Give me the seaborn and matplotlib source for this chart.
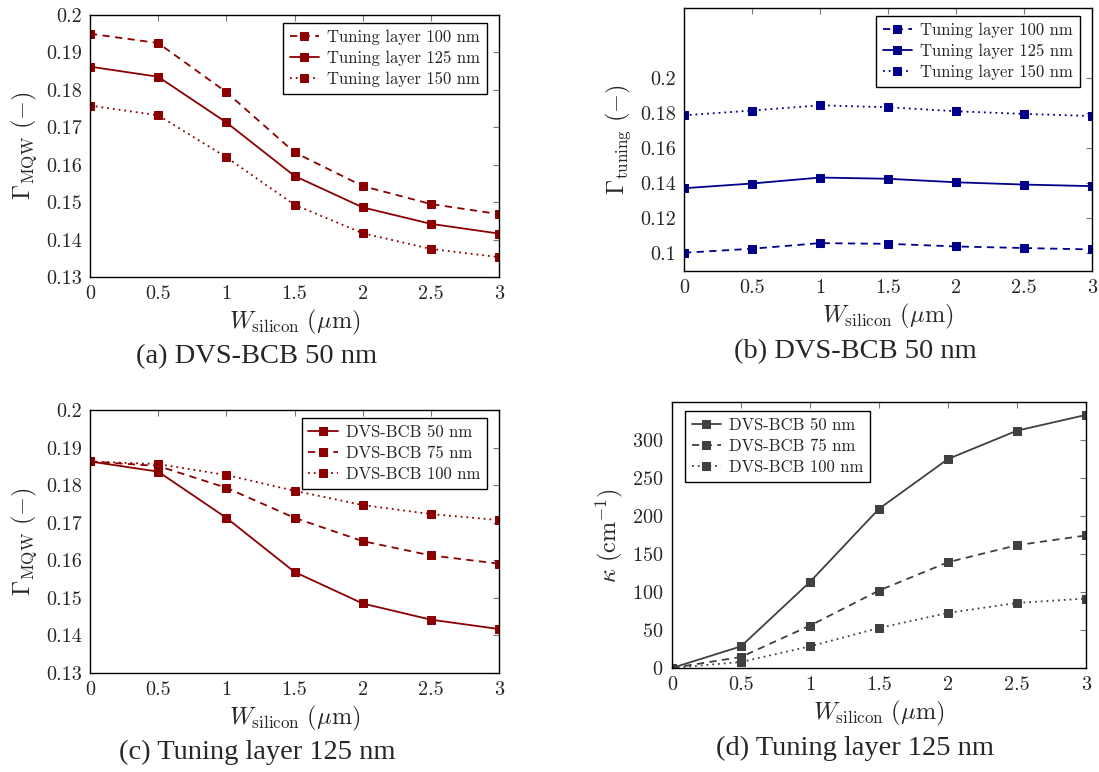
import numpy as np
import pandas as pd
import matplotlib
matplotlib.use("Agg")
import matplotlib.pyplot as plt
import seaborn as sns

# Data
w_silicon = [0, 0.5, 1, 1.5, 2, 2.5, 3]

# (a) Gamma_MQW, DVS-BCB 50 nm
a_tl100 = [0.1950, 0.1925, 0.1794, 0.1633, 0.1543, 0.1495, 0.1468]
a_tl125 = [0.1862, 0.1835, 0.1713, 0.1570, 0.1486, 0.1442, 0.1416]
a_tl150 = [0.1758, 0.1732, 0.1620, 0.1493, 0.1417, 0.1375, 0.1353]

# (b) Gamma_tuning, DVS-BCB 50 nm
b_tl100 = [0.1004, 0.1027, 0.1059, 0.1055, 0.1040, 0.1031, 0.1023]
b_tl125 = [0.1372, 0.1399, 0.1433, 0.1426, 0.1406, 0.1393, 0.1384]
b_tl150 = [0.1788, 0.1815, 0.1845, 0.1834, 0.1811, 0.1796, 0.1784]

# (c) Gamma_MQW, tuning layer 125 nm
c_bcb50 = [0.1863, 0.1836, 0.1713, 0.1569, 0.1485, 0.1442, 0.1417]
c_bcb75 = [0.1863, 0.1851, 0.1793, 0.1713, 0.1651, 0.1613, 0.1591]
c_bcb100 = [0.1863, 0.1856, 0.1827, 0.1785, 0.1747, 0.1723, 0.1707]

# (d) kappa, tuning layer 125 nm
d_bcb50 = [0, 28.5, 113.3, 209.5, 275.0, 312.3, 333.0]
d_bcb75 = [0, 14.5, 55.8, 101.9, 139.2, 161.6, 174.4]
d_bcb100 = [0, 7.9, 28.5, 52.7, 72.5, 85.6, 91.4]

sns.set_style("white")
plt.rcParams['font.family'] = ['cmr10']
plt.rcParams['mathtext.fontset'] = 'cm'
plt.rcParams['axes.formatter.use_mathtext'] = True
plt.rcParams['axes.unicode_minus'] = False

DARKRED = '#8b0000'
NAVY = '#00008b'
GRAY = '#404040'
SOLID = '-'
DASHED = (0, (4, 3))
DOTTED = (0, (1, 2.2))

W, H = 1099, 772
fig = plt.figure(figsize=(W / 100, H / 100), dpi=100)


def make_axes(left, right, top, bottom):
    ax = fig.add_axes([left / W, 1 - bottom / H, (right - left) / W, (bottom - top) / H])
    ax.px = (right - left, bottom - top)
    return ax


def draw(ax, series, color, ylim, yticks, ylabel, loc):
    for vals, label, ls in series:
        df = pd.DataFrame({'w': w_silicon, 'v': vals})
        sns.lineplot(data=df, x='w', y='v', ax=ax, color=color, linestyle=ls,
                     lw=1.3, marker='s', markersize=6.2, markeredgecolor=color,
                     label=label, legend=False)
    ax.set_xlim(0, 3)
    ax.set_ylim(*ylim)
    ax.set_xticks(w_silicon)
    ax.set_xticklabels(['0', '0.5', '1', '1.5', '2', '2.5', '3'])
    ax.set_yticks(yticks)
    ax.tick_params(direction='in', top=True, right=True, length=4, width=0.8,
                   labelsize=14.5, color='#777777', pad=6)
    for s in ax.spines.values():
        s.set_color('black')
        s.set_linewidth(1.0)
    ax.set_xlabel(r'$W_{\mathrm{silicon}}\ (\mu\mathrm{m})$', fontsize=17.5, labelpad=3)
    ax.set_ylabel(ylabel, fontsize=17.5, labelpad=5)
    wpx, hpx = ax.px
    if loc == 'upper right':
        anchor = (1 - 12 / wpx, 1 - 8 / hpx)
    else:
        anchor = (13 / wpx, 1 - 9 / hpx)
    leg = ax.legend(loc=loc, bbox_to_anchor=anchor, fontsize=12, frameon=True,
                    fancybox=False, edgecolor='black', framealpha=1,
                    handlelength=1.75, borderaxespad=0, labelspacing=0.35,
                    handletextpad=0.5, borderpad=0.4)
    leg.get_frame().set_linewidth(1.0)


gmqw = r'$\Gamma_{\mathrm{MQW}}\ (-)$'
ax_a = make_axes(90, 499, 15, 277)
draw(ax_a, [(a_tl100, 'Tuning layer 100 nm', DASHED),
            (a_tl125, 'Tuning layer 125 nm', SOLID),
            (a_tl150, 'Tuning layer 150 nm', DOTTED)],
     DARKRED, (0.13, 0.2), [0.13, 0.14, 0.15, 0.16, 0.17, 0.18, 0.19, 0.2], gmqw, 'upper right')
ax_a.set_yticklabels(['0.13', '0.14', '0.15', '0.16', '0.17', '0.18', '0.19', '0.2'])

ax_b = make_axes(684, 1092, 8, 271)
draw(ax_b, [(b_tl100, 'Tuning layer 100 nm', DASHED),
            (b_tl125, 'Tuning layer 125 nm', SOLID),
            (b_tl150, 'Tuning layer 150 nm', DOTTED)],
     NAVY, (0.09, 0.24), [0.1, 0.12, 0.14, 0.16, 0.18, 0.2],
     r'$\Gamma_{\mathrm{tuning}}\ (-)$', 'upper right')
ax_b.set_yticklabels(['0.1', '0.12', '0.14', '0.16', '0.18', '0.2'])

ax_c = make_axes(90, 499, 410, 673)
draw(ax_c, [(c_bcb50, 'DVS-BCB 50 nm', SOLID),
            (c_bcb75, 'DVS-BCB 75 nm', DASHED),
            (c_bcb100, 'DVS-BCB 100 nm', DOTTED)],
     DARKRED, (0.13, 0.2), [0.13, 0.14, 0.15, 0.16, 0.17, 0.18, 0.19, 0.2], gmqw, 'upper right')
ax_c.set_yticklabels(['0.13', '0.14', '0.15', '0.16', '0.17', '0.18', '0.19', '0.2'])

ax_d = make_axes(672, 1086, 402, 668)
draw(ax_d, [(d_bcb50, 'DVS-BCB 50 nm', SOLID),
            (d_bcb75, 'DVS-BCB 75 nm', DASHED),
            (d_bcb100, 'DVS-BCB 100 nm', DOTTED)],
     GRAY, (0, 350), [0, 50, 100, 150, 200, 250, 300],
     r'$\kappa\ (\mathrm{cm}^{-1})$', 'upper left')

cap = dict(fontsize=20.5, family='Liberation Serif', ha='center', va='center')
fig.text(257 / W, 1 - 357 / H, '(a) DVS-BCB 50 nm', **cap)
fig.text(855 / W, 1 - 352 / H, '(b) DVS-BCB 50 nm', **cap)
fig.text(257 / W, 1 - 752 / H, '(c) Tuning layer 125 nm', **cap)
fig.text(855 / W, 1 - 748 / H, '(d) Tuning layer 125 nm', **cap)

fig.savefig('out.png', dpi=100)
